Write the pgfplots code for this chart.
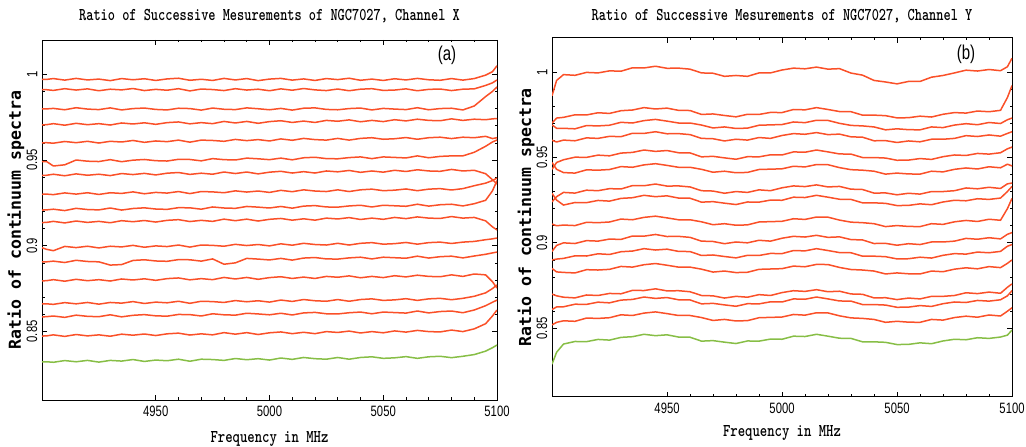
\documentclass[border=0pt]{standalone}
\usepackage{pgfplots}
\pgfplotsset{compat=1.18}
\usepackage{pgfplotstable}
\usepackage{fontspec}
\usepackage{graphicx}
\newfontfamily\tickf[FakeStretch=0.75]{Liberation Sans}
\newfontfamily\ylabf{DejaVu Sans Mono}
\definecolor{orl}{RGB}{250,80,40}
\definecolor{grl}{RGB}{135,190,70}

\pgfplotstableread{
x a b c d e f g h i j k l m n o p q
4900 0.9970 0.9910 0.9798 0.9705 0.9600 0.9490 0.9410 0.9300 0.9208 0.9135 0.8988 0.8905 0.8795 0.8660 0.8585 0.8473 0.8322
4902 0.9970 0.9910 0.9798 0.9706 0.9601 0.9491 0.9411 0.9301 0.9209 0.9136 0.8979 0.8906 0.8796 0.8661 0.8586 0.8474 0.8323
4905 0.9975 0.9906 0.9801 0.9712 0.9598 0.9465 0.9417 0.9298 0.9213 0.9142 0.8971 0.8910 0.8802 0.8658 0.8590 0.8480 0.8320
4910 0.9966 0.9916 0.9793 0.9703 0.9608 0.9472 0.9408 0.9308 0.9205 0.9133 0.8996 0.8902 0.8793 0.8668 0.8582 0.8471 0.8330
4915 0.9976 0.9908 0.9805 0.9714 0.9601 0.9500 0.9419 0.9301 0.9218 0.9144 0.8989 0.8915 0.8804 0.8661 0.8595 0.8482 0.8323
4920 0.9967 0.9915 0.9797 0.9706 0.9609 0.9493 0.9411 0.9309 0.9211 0.9136 0.8997 0.8908 0.8796 0.8669 0.8588 0.8474 0.8331
4925 0.9972 0.9904 0.9794 0.9712 0.9599 0.9491 0.9417 0.9299 0.9209 0.9142 0.8987 0.8906 0.8802 0.8659 0.8586 0.8480 0.8321
4930 0.9963 0.9913 0.9804 0.9704 0.9609 0.9502 0.9409 0.9309 0.9220 0.9134 0.8997 0.8887 0.8794 0.8669 0.8597 0.8472 0.8331
4935 0.9975 0.9909 0.9792 0.9716 0.9605 0.9490 0.9421 0.9305 0.9208 0.9146 0.8993 0.8890 0.8806 0.8665 0.8585 0.8484 0.8327
4940 0.9968 0.9917 0.9800 0.9710 0.9614 0.9499 0.9415 0.9314 0.9217 0.9140 0.9002 0.8914 0.8800 0.8674 0.8594 0.8478 0.8336
4945 0.9974 0.9905 0.9803 0.9717 0.9603 0.9503 0.9422 0.9303 0.9221 0.9147 0.8991 0.8918 0.8807 0.8663 0.8598 0.8485 0.8325
4950 0.9964 0.9912 0.9795 0.9708 0.9611 0.9496 0.9413 0.9311 0.9214 0.9138 0.8999 0.8911 0.8798 0.8671 0.8591 0.8476 0.8333
4955 0.9973 0.9907 0.9792 0.9718 0.9607 0.9494 0.9423 0.9307 0.9212 0.9148 0.8995 0.8909 0.8808 0.8667 0.8589 0.8486 0.8329
4960 0.9977 0.9916 0.9802 0.9722 0.9616 0.9504 0.9427 0.9316 0.9222 0.9152 0.9004 0.8919 0.8812 0.8676 0.8599 0.8490 0.8338
4965 0.9965 0.9903 0.9800 0.9711 0.9604 0.9503 0.9416 0.9304 0.9221 0.9141 0.8992 0.8918 0.8801 0.8664 0.8598 0.8479 0.8326
4970 0.9971 0.9914 0.9791 0.9718 0.9616 0.9495 0.9423 0.9316 0.9213 0.9148 0.9004 0.8910 0.8808 0.8676 0.8590 0.8486 0.8338
4975 0.9964 0.9911 0.9803 0.9712 0.9614 0.9508 0.9417 0.9314 0.9226 0.9142 0.9002 0.8923 0.8802 0.8674 0.8603 0.8480 0.8336
4980 0.9976 0.9905 0.9796 0.9725 0.9609 0.9502 0.9430 0.9309 0.9220 0.9155 0.8997 0.8892 0.8815 0.8669 0.8597 0.8493 0.8331
4985 0.9967 0.9916 0.9794 0.9716 0.9620 0.9500 0.9421 0.9320 0.9218 0.9146 0.9008 0.8900 0.8806 0.8680 0.8595 0.8484 0.8342
4990 0.9975 0.9908 0.9804 0.9725 0.9613 0.9511 0.9430 0.9313 0.9229 0.9155 0.9001 0.8926 0.8815 0.8673 0.8606 0.8493 0.8335
4995 0.9963 0.9913 0.9799 0.9714 0.9619 0.9507 0.9419 0.9319 0.9225 0.9144 0.9007 0.8922 0.8804 0.8679 0.8602 0.8482 0.8341
5000 0.9972 0.9904 0.9793 0.9724 0.9611 0.9502 0.9429 0.9311 0.9220 0.9154 0.8999 0.8917 0.8814 0.8671 0.8597 0.8492 0.8333
5005 0.9976 0.9915 0.9801 0.9729 0.9623 0.9511 0.9434 0.9323 0.9229 0.9159 0.9011 0.8926 0.8819 0.8683 0.8606 0.8497 0.8345
5010 0.9966 0.9907 0.9791 0.9719 0.9615 0.9501 0.9424 0.9315 0.9219 0.9149 0.9003 0.8916 0.8809 0.8675 0.8596 0.8487 0.8337
5015 0.9973 0.9917 0.9802 0.9727 0.9626 0.9513 0.9432 0.9326 0.9231 0.9157 0.9014 0.8928 0.8817 0.8686 0.8608 0.8495 0.8348
5020 0.9964 0.9909 0.9804 0.9719 0.9619 0.9516 0.9424 0.9319 0.9234 0.9149 0.9007 0.8931 0.8809 0.8679 0.8611 0.8487 0.8341
5025 0.9975 0.9905 0.9795 0.9731 0.9616 0.9508 0.9436 0.9316 0.9226 0.9161 0.9004 0.8923 0.8821 0.8676 0.8603 0.8499 0.8338
5030 0.9969 0.9914 0.9793 0.9726 0.9626 0.9507 0.9431 0.9326 0.9225 0.9156 0.9014 0.8922 0.8816 0.8686 0.8602 0.8494 0.8348
5035 0.9977 0.9904 0.9800 0.9734 0.9616 0.9514 0.9439 0.9316 0.9232 0.9164 0.9004 0.8929 0.8824 0.8676 0.8609 0.8502 0.8338
5040 0.9965 0.9913 0.9803 0.9723 0.9626 0.9518 0.9428 0.9326 0.9236 0.9153 0.9014 0.8933 0.8813 0.8686 0.8613 0.8491 0.8348
5045 0.9972 0.9916 0.9792 0.9731 0.9630 0.9508 0.9436 0.9330 0.9226 0.9161 0.9018 0.8923 0.8821 0.8690 0.8603 0.8499 0.8352
5050 0.9964 0.9906 0.9801 0.9724 0.9621 0.9518 0.9429 0.9321 0.9236 0.9154 0.9009 0.8933 0.8814 0.8681 0.8613 0.8492 0.8343
5055 0.9974 0.9908 0.9797 0.9735 0.9624 0.9515 0.9440 0.9324 0.9233 0.9165 0.9012 0.8930 0.8825 0.8684 0.8610 0.8503 0.8346
5060 0.9967 0.9915 0.9794 0.9728 0.9631 0.9512 0.9433 0.9331 0.9230 0.9158 0.9019 0.8927 0.8818 0.8691 0.8607 0.8496 0.8353
5065 0.9976 0.9904 0.9805 0.9738 0.9621 0.9524 0.9443 0.9321 0.9242 0.9168 0.9009 0.8939 0.8828 0.8681 0.8619 0.8506 0.8343
5070 0.9968 0.9912 0.9793 0.9731 0.9630 0.9513 0.9436 0.9330 0.9231 0.9161 0.9018 0.8928 0.8821 0.8690 0.8608 0.8499 0.8352
5075 0.9965 0.9914 0.9800 0.9729 0.9633 0.9521 0.9434 0.9333 0.9239 0.9159 0.9021 0.8936 0.8819 0.8693 0.8616 0.8497 0.8355
5080 0.9975 0.9905 0.9802 0.9740 0.9625 0.9524 0.9445 0.9325 0.9242 0.9170 0.9013 0.8939 0.8830 0.8685 0.8619 0.8508 0.8347
5085 0.9966 0.9913 0.9792 0.9731 0.9633 0.9524 0.9436 0.9333 0.9232 0.9161 0.9021 0.8929 0.8821 0.8693 0.8609 0.8499 0.8355
5090 0.9975 0.9915 0.9815 0.9738 0.9630 0.9545 0.9440 0.9350 0.9245 0.9165 0.9025 0.8940 0.8835 0.8705 0.8625 0.8515 0.8365
5095 0.9995 0.9935 0.9870 0.9735 0.9638 0.9580 0.9420 0.9365 0.9265 0.9145 0.9035 0.8950 0.8830 0.8725 0.8650 0.8545 0.8385
5098 1.0015 0.9950 0.9900 0.9740 0.9625 0.9605 0.9385 0.9380 0.9320 0.9110 0.9040 0.8958 0.8790 0.8750 0.8670 0.8590 0.8405
5100 1.0050 0.9967 0.9926 0.9742 0.9630 0.9617 0.9360 0.9395 0.9380 0.9092 0.9045 0.8963 0.8753 0.8771 0.8683 0.8625 0.8421
}\tabA

\pgfplotstableread{
x a b c d e f g h i j k l m n o p
4900 0.9860 0.9700 0.9690 0.9600 0.9430 0.9470 0.9240 0.9290 0.9110 0.8950 0.8900 0.8850 0.8700 0.8610 0.8520 0.8290
4902 0.9950 0.9730 0.9670 0.9590 0.9470 0.9430 0.9270 0.9250 0.9100 0.8985 0.8905 0.8830 0.8690 0.8625 0.8535 0.8360
4905 0.9984 0.9734 0.9670 0.9601 0.9486 0.9411 0.9295 0.9221 0.9104 0.9000 0.8909 0.8827 0.8682 0.8626 0.8544 0.8408
4910 0.9980 0.9749 0.9667 0.9597 0.9501 0.9408 0.9291 0.9236 0.9101 0.8996 0.8924 0.8824 0.8678 0.8641 0.8541 0.8423
4915 0.9997 0.9748 0.9686 0.9614 0.9500 0.9427 0.9308 0.9235 0.9120 0.9013 0.8923 0.8843 0.8695 0.8640 0.8560 0.8422
4920 0.9994 0.9761 0.9684 0.9611 0.9513 0.9425 0.9305 0.9248 0.9118 0.9010 0.8936 0.8841 0.8692 0.8653 0.8558 0.8435
4925 1.0006 0.9757 0.9688 0.9623 0.9509 0.9429 0.9317 0.9244 0.9122 0.9022 0.8932 0.8845 0.8704 0.8649 0.8562 0.8431
4930 1.0004 0.9773 0.9705 0.9621 0.9525 0.9446 0.9315 0.9260 0.9139 0.9020 0.8948 0.8862 0.8702 0.8665 0.8579 0.8447
4935 1.0024 0.9777 0.9701 0.9641 0.9529 0.9442 0.9335 0.9264 0.9135 0.9040 0.8952 0.8858 0.8722 0.8669 0.8575 0.8451
4940 1.0023 0.9791 0.9715 0.9640 0.9543 0.9456 0.9334 0.9278 0.9149 0.9039 0.8966 0.8872 0.8721 0.8683 0.8589 0.8465
4945 1.0033 0.9783 0.9722 0.9650 0.9535 0.9463 0.9344 0.9270 0.9156 0.9049 0.8958 0.8879 0.8731 0.8675 0.8596 0.8457
4950 1.0021 0.9788 0.9712 0.9638 0.9540 0.9453 0.9332 0.9275 0.9146 0.9037 0.8963 0.8869 0.8719 0.8680 0.8586 0.8462
4955 1.0022 0.9775 0.9701 0.9639 0.9527 0.9442 0.9333 0.9262 0.9135 0.9038 0.8950 0.8858 0.8720 0.8667 0.8575 0.8449
4960 1.0016 0.9774 0.9701 0.9633 0.9526 0.9442 0.9327 0.9261 0.9135 0.9032 0.8949 0.8858 0.8714 0.8666 0.8575 0.8448
4965 0.9994 0.9751 0.9689 0.9611 0.9503 0.9430 0.9305 0.9238 0.9123 0.9010 0.8926 0.8846 0.8692 0.8643 0.8563 0.8425
4970 0.9992 0.9754 0.9672 0.9609 0.9506 0.9413 0.9303 0.9241 0.9106 0.9008 0.8929 0.8829 0.8690 0.8646 0.8546 0.8428
4975 0.9974 0.9745 0.9678 0.9596 0.9497 0.9419 0.9290 0.9232 0.9112 0.8995 0.8920 0.8835 0.8677 0.8637 0.8552 0.8419
4980 0.9979 0.9737 0.9669 0.9606 0.9489 0.9410 0.9300 0.9224 0.9103 0.9005 0.8912 0.8826 0.8687 0.8629 0.8543 0.8411
4985 0.9974 0.9752 0.9671 0.9601 0.9504 0.9412 0.9295 0.9239 0.9105 0.9000 0.8927 0.8828 0.8682 0.8644 0.8545 0.8426
4990 0.9994 0.9751 0.9688 0.9616 0.9503 0.9429 0.9310 0.9238 0.9122 0.9015 0.8926 0.8845 0.8697 0.8643 0.8562 0.8425
4995 0.9994 0.9763 0.9690 0.9611 0.9515 0.9431 0.9305 0.9250 0.9124 0.9010 0.8938 0.8847 0.8692 0.8655 0.8564 0.8437
5000 1.0011 0.9762 0.9692 0.9628 0.9514 0.9433 0.9322 0.9249 0.9126 0.9027 0.8937 0.8849 0.8709 0.8654 0.8566 0.8436
5005 1.0022 0.9780 0.9707 0.9639 0.9532 0.9448 0.9333 0.9267 0.9141 0.9038 0.8955 0.8864 0.8720 0.8672 0.8581 0.8454
5010 1.0018 0.9778 0.9703 0.9635 0.9530 0.9444 0.9329 0.9265 0.9137 0.9034 0.8953 0.8860 0.8716 0.8670 0.8577 0.8452
5015 1.0028 0.9791 0.9717 0.9645 0.9543 0.9458 0.9339 0.9278 0.9151 0.9044 0.8966 0.8874 0.8726 0.8683 0.8591 0.8465
5020 1.0016 0.9780 0.9716 0.9633 0.9532 0.9457 0.9327 0.9267 0.9150 0.9032 0.8955 0.8873 0.8714 0.8672 0.8590 0.8454
5025 1.0019 0.9768 0.9699 0.9636 0.9520 0.9440 0.9330 0.9255 0.9133 0.9035 0.8943 0.8856 0.8717 0.8660 0.8573 0.8442
5030 0.9993 0.9767 0.9687 0.9620 0.9519 0.9428 0.9314 0.9254 0.9121 0.9019 0.8942 0.8844 0.8701 0.8659 0.8561 0.8441
5035 0.9981 0.9747 0.9684 0.9618 0.9499 0.9425 0.9312 0.9234 0.9118 0.9017 0.8922 0.8841 0.8699 0.8639 0.8558 0.8421
5040 0.9950 0.9747 0.9678 0.9597 0.9499 0.9419 0.9291 0.9234 0.9112 0.8996 0.8922 0.8835 0.8678 0.8639 0.8552 0.8421
5045 0.9941 0.9744 0.9661 0.9598 0.9496 0.9402 0.9292 0.9231 0.9095 0.8997 0.8919 0.8818 0.8679 0.8636 0.8535 0.8418
5050 0.9930 0.9731 0.9667 0.9587 0.9483 0.9408 0.9281 0.9218 0.9101 0.8986 0.8906 0.8824 0.8668 0.8623 0.8541 0.8405
5055 0.9944 0.9732 0.9662 0.9596 0.9484 0.9403 0.9290 0.9219 0.9096 0.8995 0.8907 0.8819 0.8677 0.8624 0.8536 0.8406
5060 0.9944 0.9741 0.9661 0.9591 0.9493 0.9402 0.9285 0.9228 0.9095 0.8990 0.8916 0.8818 0.8672 0.8633 0.8535 0.8415
5065 0.9969 0.9736 0.9678 0.9606 0.9488 0.9419 0.9300 0.9223 0.9112 0.9005 0.8911 0.8835 0.8687 0.8628 0.8552 0.8410
5070 0.9979 0.9752 0.9674 0.9606 0.9504 0.9415 0.9300 0.9239 0.9108 0.9005 0.8927 0.8831 0.8687 0.8644 0.8548 0.8426
5075 0.9994 0.9762 0.9689 0.9611 0.9514 0.9430 0.9305 0.9249 0.9123 0.9010 0.8937 0.8846 0.8692 0.8654 0.8563 0.8436
5080 1.0010 0.9759 0.9697 0.9627 0.9511 0.9438 0.9321 0.9246 0.9131 0.9026 0.8934 0.8854 0.8708 0.8651 0.8571 0.8433
5085 1.0005 0.9771 0.9691 0.9622 0.9523 0.9432 0.9316 0.9258 0.9125 0.9021 0.8946 0.8848 0.8703 0.8663 0.8565 0.8445
5090 1.0014 0.9767 0.9704 0.9631 0.9519 0.9445 0.9325 0.9254 0.9138 0.9030 0.8942 0.8861 0.8712 0.8659 0.8578 0.8441
5095 1.0007 0.9775 0.9698 0.9624 0.9527 0.9439 0.9318 0.9262 0.9132 0.9023 0.8950 0.8855 0.8705 0.8667 0.8572 0.8449
5098 1.0030 0.9850 0.9720 0.9640 0.9550 0.9460 0.9345 0.9300 0.9200 0.9050 0.8980 0.8880 0.8740 0.8690 0.8600 0.8460
5100 1.0080 0.9920 0.9730 0.9650 0.9560 0.9450 0.9350 0.9330 0.9260 0.9060 0.8990 0.8900 0.8760 0.8720 0.8620 0.8490
}\tabB

\pgfplotsset{
  myax/.style={
    scale only axis,
    xmin=4900, xmax=5100, ymin=0.81, ymax=1.02,
    xtick={4950,5000,5050,5100}, xticklabels={4950,5000,5050,5100},
    ytick={0.85,0.9,0.95,1}, yticklabels={0.85,0.9,0.95,1},
    minor x tick num=4, minor y tick num=4,
    tick align=inside,
    major tick length=5bp, minor tick length=2.5bp,
    axis line style={line width=0.9bp, black},
    every tick/.style={black, line width=0.7bp},
    xticklabel style={font=\tickf\fontsize{15bp}{16bp}\selectfont, anchor=north, inner sep=0pt, yshift=-6bp},
    yticklabel style={font=\tickf\fontsize{15bp}{16bp}\selectfont, xshift=-4.5bp, rotate=90, anchor=south, inner sep=0pt},
    every axis y label/.style={at={(axis description cs:0,0.5)}, xshift=-21bp, rotate=90, anchor=base},
    ylabel={\ylabf\bfseries\fontsize{16.5bp}{18bp}\selectfont Ratio of continuum spectra},
    every axis plot/.append style={line width=1.5bp, line join=round, no marks},
  }
}

\begin{document}
\begin{tikzpicture}
\path[use as bounding box] (0,0) rectangle (1026bp,447bp);

\begin{axis}[myax,
  at={(42bp,47bp)}, anchor=south west,
  width=455bp, height=360bp,
  every axis title/.style={at={(axis description cs:0.5,1)}, anchor=base, yshift=19bp},
  title={\fontsize{18bp}{20bp}\selectfont\ttfamily\bfseries\scalebox{0.76}[1]{Ratio of Successive Mesurements of NGC7027, Channel X}},
  every axis x label/.style={at={(axis description cs:0.5,0)}, anchor=base, yshift=-42bp},
  xlabel={\fontsize{18bp}{20bp}\selectfont\ttfamily\bfseries\scalebox{0.78}[1]{Frequency in MHz}},
]
\pgfplotsinvokeforeach{a,b,c,d,e,f,g,h,i,j,k,l,m,n,o,p}{
  \addplot[orl] table[x=x,y=#1]{\tabA};
}
\addplot[grl] table[x=x,y=q]{\tabA};
\node[font=\tickf\fontsize{20bp}{22bp}\selectfont] at (axis cs:5078,1.011) {(a)};
\end{axis}

\begin{axis}[myax,
  at={(552bp,50.3bp)}, anchor=south west,
  width=460bp, height=359bp,
  every axis title/.style={at={(axis description cs:0.5,1)}, anchor=base, yshift=16.7bp},
  title={\fontsize{18bp}{20bp}\selectfont\ttfamily\bfseries\scalebox{0.76}[1]{Ratio of Successive Mesurements of NGC7027, Channel Y}},
  every axis x label/.style={at={(axis description cs:0.5,0)}, anchor=base, yshift=-40.3bp},
  xlabel={\fontsize{18bp}{20bp}\selectfont\ttfamily\bfseries\scalebox{0.78}[1]{Frequency in MHz}},
]
\pgfplotsinvokeforeach{a,b,c,d,e,f,g,h,i,j,k,l,m,n,o}{
  \addplot[orl] table[x=x,y=#1]{\tabB};
}
\addplot[grl] table[x=x,y=p]{\tabB};
\node[font=\tickf\fontsize{20bp}{22bp}\selectfont] at (axis cs:5080,1.0105) {(b)};
\end{axis}
\end{tikzpicture}
\end{document}
